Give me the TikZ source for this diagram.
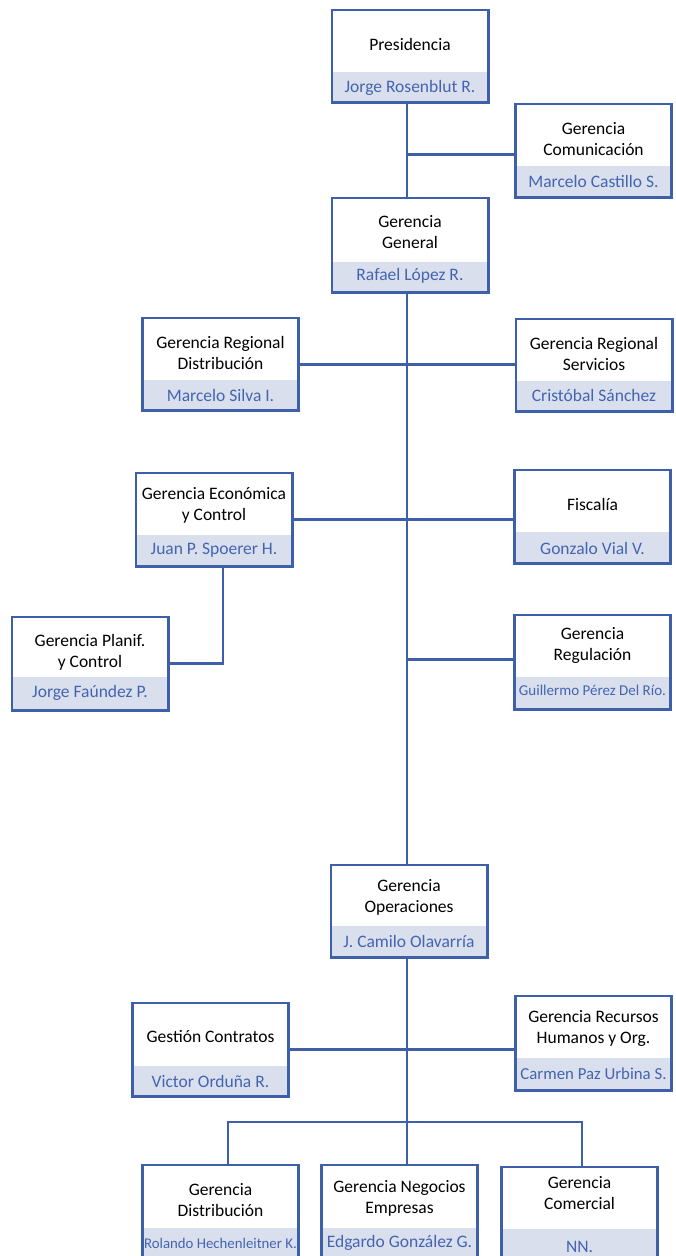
\documentclass[tikz,border=0pt]{standalone}
\usepackage{fontspec}
\setmainfont{Carlito}
\definecolor{orgblue}{RGB}{62,95,170}
\definecolor{bandfill}{RGB}{217,223,236}
\definecolor{namecol}{RGB}{68,100,178}
\tikzset{
  conn/.style={draw=orgblue, line width=2.6pt},
  boxframe/.style={draw=orgblue, line width=2.6pt},
  orgnode/.style={rectangle, minimum width=156pt, inner sep=0pt, fill=white},
  ttl/.style={font=\fontsize{17.5}{21}\selectfont, align=center, text=black, inner sep=0pt},
  pers/.style={font=\fontsize{17.5}{21}\selectfont, text=namecol, inner sep=0pt},
}
% name, cx, top, height, band height, title y, person y, title, person
\newcommand\orgbox[9]{%
  \node[orgnode, minimum height=#4pt, anchor=north] (#1) at (#2,#3) {};
  \fill[bandfill] (#1.south west) rectangle ([yshift=#5pt]#1.south east);
  \draw[boxframe] (#1.south west) rectangle (#1.north east);
  \node[ttl] (#1-t) at (#2,#6) {#8};
  \node[pers] (#1-p) at (#2,#7) {#9};
}
\begin{document}
\begin{tikzpicture}[x=1pt,y=-1pt]
\fill[white] (0,0) rectangle (675,1256);
\useasboundingbox (0,0) rectangle (675,1256);

\orgbox{pres}{410}{10}{92}{30}{44}{88}{Presidencia}{Jorge Rosenblut R.}
\orgbox{com}{593.5}{104}{93}{31}{139.5}{181}{Gerencia\\Comunicación}{Marcelo Castillo S.}
\orgbox{gg}{410}{198}{94}{30}{232.5}{276}{Gerencia\\General}{Rafael López R.}
\orgbox{rdist}{220.5}{318}{92}{30}{352.5}{395}{Gerencia Regional\\Distribución}{Marcelo Silva I.}
\orgbox{rserv}{594}{319}{92}{30}{354}{395}{Gerencia Regional\\Servicios}{Cristóbal Sánchez}
\orgbox{eco}{214}{473}{93}{31}{505.5}{550}{Gerencia Económica\\y Control}{Juan P. Spoerer H.}
\orgbox{fis}{592.5}{470}{93}{31}{504}{548}{Fiscalía}{Gonzalo Vial V.}
\orgbox{plan}{90}{617}{93}{33}{652}{693}{Gerencia Planif.\\y Control}{Jorge Faúndez P.}
\orgbox{reg}{592.5}{615}{94}{32}{645.5}{690}{Gerencia\\Regulación}{{\fontsize{15}{18}\selectfont Guillermo Pérez Del Río.}}
\orgbox{ops}{409}{865}{92}{31}{897.5}{941}{Gerencia\\Operaciones}{J. Camilo Olavarría}
\orgbox{ges}{210.5}{1003}{93}{30}{1037}{1081}{Gestión Contratos}{Victor Orduña R.}
\orgbox{rrhh}{593.5}{996}{94}{32}{1028.5}{1074}{Gerencia Recursos\\Humanos y Org.}{{\fontsize{16.8}{20}\selectfont Carmen Paz Urbina S.}}
\orgbox{dist}{220.5}{1165}{100}{37}{1200.5}{1243}{Gerencia\\Distribución}{{\fontsize{14.8}{18}\selectfont Rolando Hechenleitner K.}}
\orgbox{neg}{399.5}{1165}{100}{37}{1198.5}{1243}{Gerencia Negocios\\Empresas}{Edgardo González G.}
\orgbox{comer}{579.5}{1167}{100}{38}{1193.5}{1247}{Gerencia\\Comercial}{NN.}

\coordinate (spine) at (407,0);
\coordinate (bus) at (407,1122);
\draw[conn] (pres.south -| spine) -- (gg.north -| spine);
\draw[conn] ([yshift=-4pt]com.west) -- ([yshift=-4pt]com.west -| spine);
\draw[conn] (gg.south -| spine) -- (ops.north -| spine);
\draw[conn] (rdist.east) -- (rdist.east -| rserv.west);
\draw[conn] (eco.east) -- (eco.east -| fis.west);
\draw[conn] ([xshift=9pt]eco.south) |- (plan.east);
\draw[conn] ([yshift=3pt]reg.west) -- ([yshift=3pt]reg.west -| spine);
\draw[conn] (ops.south -| spine) -- (neg.north -| spine);
\draw[conn] (ges.east) -- (ges.east -| rrhh.west);
\draw[conn] ([xshift=7.5pt]dist.north) |- (bus) -| ([xshift=2.5pt]comer.north);
\end{tikzpicture}
\end{document}
